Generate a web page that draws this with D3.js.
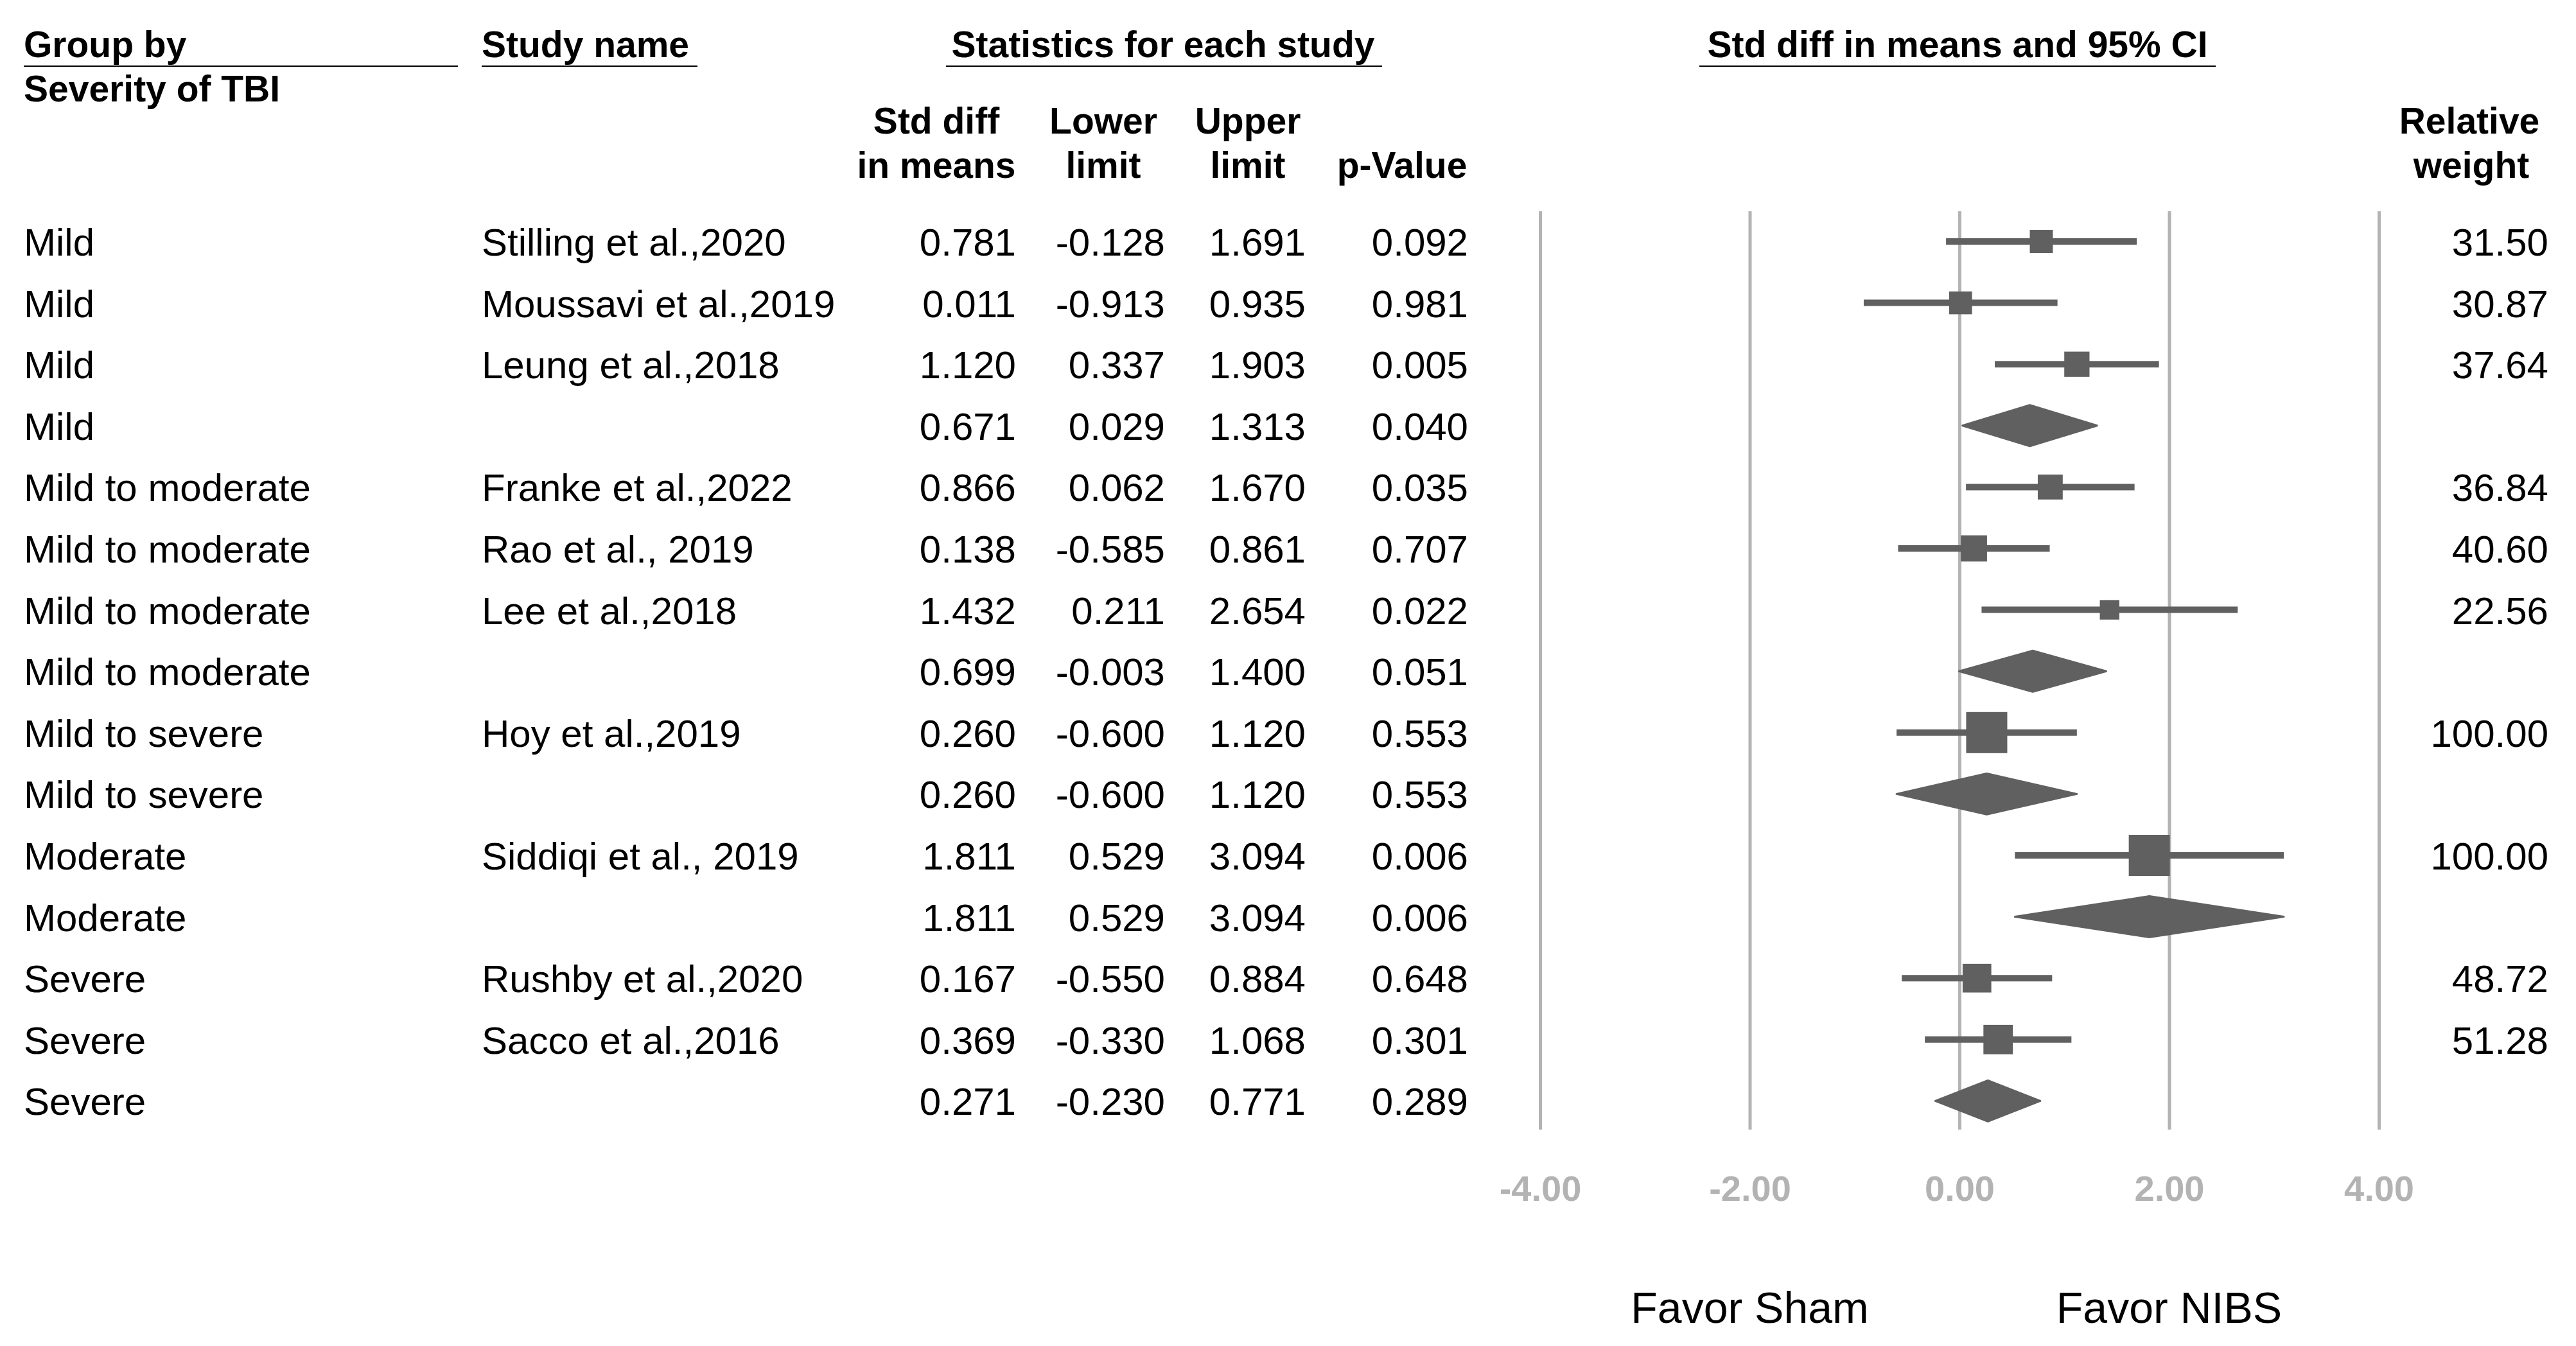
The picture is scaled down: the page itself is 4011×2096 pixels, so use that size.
<html>
<script src="https://cdnjs.cloudflare.com/ajax/libs/d3/7.8.5/d3.min.js"></script>
<body style="margin:0; background:white;">
    <div id="graph"></div>
</body>
<script>
    // rows of the forest plot, top to bottom
    var groups = ["Mild", "Mild", "Mild", "Mild",
        "Mild to moderate", "Mild to moderate", "Mild to moderate", "Mild to moderate",
        "Mild to severe", "Mild to severe", "Moderate", "Moderate",
        "Severe", "Severe", "Severe"]
    var studies = ["Stilling et al.,2020", "Moussavi et al.,2019", "Leung et al.,2018", "",
        "Franke et al.,2022", "Rao et al., 2019", "Lee et al.,2018", "",
        "Hoy et al.,2019", "", "Siddiqi et al., 2019", "",
        "Rushby et al.,2020", "Sacco et al.,2016", ""]
    var effect = [0.781, 0.011, 1.120, 0.671, 0.866, 0.138, 1.432, 0.699, 0.260, 0.260, 1.811, 1.811, 0.167, 0.369, 0.271]
    var lower = [-0.128, -0.913, 0.337, 0.029, 0.062, -0.585, 0.211, -0.003, -0.600, -0.600, 0.529, 0.529, -0.550, -0.330, -0.230]
    var upper = [1.691, 0.935, 1.903, 1.313, 1.670, 0.861, 2.654, 1.400, 1.120, 1.120, 3.094, 3.094, 0.884, 1.068, 0.771]
    var pvalue = [0.092, 0.981, 0.005, 0.040, 0.035, 0.707, 0.022, 0.051, 0.553, 0.553, 0.006, 0.006, 0.648, 0.301, 0.289]
    var weight = [31.50, 30.87, 37.64, null, 36.84, 40.60, 22.56, null, 100.00, null, 100.00, null, 48.72, 51.28, null]
    var ticks = [-4, -2, 0, 2, 4]

    var WIDTH = 4011, HEIGHT = 2096
    var FONT = "'Liberation Sans', Arial, sans-serif"
    var MARK = "#606060", GRID = "#b3b3b3"

    var svg = d3.select("#graph").append("svg")
        .attr("width", WIDTH).attr("height", HEIGHT)
        .style("font-family", FONT)

    var rows = groups.map((g, i) => ({
        group: g, study: studies[i], es: effect[i], lo: lower[i], hi: upper[i],
        p: pvalue[i], w: weight[i], summary: weight[i] == null
    }))

    var X = d3.scaleLinear().domain([-4, 4]).range([2398, 3704])
    var Y = d3.scaleLinear().domain([0, rows.length - 1]).range([376, 376 + 14 * 95.6])
    var SIZE = d3.scaleSqrt().domain([0, 100]).range([0, 64])

    // header
    function header(txt, x, y, anchor) {
        svg.append("text").attr("x", x).attr("y", y).attr("text-anchor", anchor || "start")
            .style("font-weight", "bold").style("font-size", "57px").text(txt)
    }
    function rule(x1, x2) {
        svg.append("line").attr("x1", x1).attr("x2", x2).attr("y1", 103).attr("y2", 103)
            .style("stroke", "#000").style("stroke-width", 2)
    }
    header("Group by", 37, 89); rule(37, 713)
    header("Severity of TBI", 37, 158)
    header("Study name", 750, 89); rule(750, 1086)
    header("Statistics for each study", 1811, 89, "middle"); rule(1473, 2152)
    header("Std diff in means and 95% CI", 3048, 89, "middle"); rule(2646, 3450)

    var colX = [1458, 1718, 1943, 2183]
    header("Std diff", colX[0], 208, "middle"); header("in means", colX[0], 277, "middle")
    header("Lower", colX[1], 208, "middle"); header("limit", colX[1], 277, "middle")
    header("Upper", colX[2], 208, "middle"); header("limit", colX[2], 277, "middle")
    header("p-Value", colX[3], 277, "middle")
    header("Relative", 3845, 208, "middle"); header("weight", 3848, 277, "middle")

    // gridlines + tick labels
    var axis = d3.axisBottom(X).tickValues(ticks)
        .tickSizeInner(-(1759 - 329)).tickSizeOuter(0).tickPadding(71)
        .tickFormat(d => d.toFixed(2))
    var ax = svg.append("g").attr("transform", "translate(0,1759)").call(axis)
    ax.select(".domain").remove()
    ax.selectAll(".tick line").style("stroke", GRID).style("stroke-width", 5)
    ax.selectAll(".tick text").style("fill", GRID).style("font-size", "56px")
        .style("font-weight", "bold").style("font-family", FONT)

    // table text
    var numCols = [["es", 1582], ["lo", 1814], ["hi", 2033], ["p", 2286]]
    var rowG = svg.selectAll("g.row").data(rows).enter().append("g")
        .attr("class", "row")
        .attr("transform", (d, i) => "translate(0," + Y(i) + ")")

    rowG.append("text").attr("x", 37).attr("y", 22).style("font-size", "60px").text(d => d.group)
    rowG.append("text").attr("x", 750).attr("y", 22).style("font-size", "60px").text(d => d.study)
    numCols.forEach(c => {
        rowG.append("text").attr("x", c[1]).attr("y", 22).attr("text-anchor", "end")
            .style("font-size", "60px").text(d => d[c[0]].toFixed(3))
    })
    rowG.filter(d => !d.summary).append("text").attr("x", 3968).attr("y", 22)
        .attr("text-anchor", "end").style("font-size", "60px").text(d => d.w.toFixed(2))

    // study CI + square
    var studyG = rowG.filter(d => !d.summary)
    studyG.append("line")
        .attr("x1", d => X(d.lo)).attr("x2", d => X(d.hi)).attr("y1", 0).attr("y2", 0)
        .style("stroke", MARK).style("stroke-width", 10)
    studyG.append("rect")
        .attr("x", d => X(d.es) - SIZE(d.w) / 2).attr("y", d => -SIZE(d.w) / 2)
        .attr("width", d => SIZE(d.w)).attr("height", d => SIZE(d.w))
        .style("fill", MARK)

    // subgroup summary diamond
    rowG.filter(d => d.summary).append("path")
        .attr("d", d => "M" + X(d.lo) + ",0L" + X(d.es) + ",-32L" + X(d.hi) + ",0L" + X(d.es) + ",32Z")
        .style("fill", MARK).style("stroke", MARK).style("stroke-width", 3).style("stroke-linejoin", "round")

    // favour labels
    svg.append("text").attr("x", X(-2)).attr("y", 2060).attr("text-anchor", "middle")
        .style("font-size", "68px").text("Favor Sham")
    svg.append("text").attr("x", X(2)).attr("y", 2060).attr("text-anchor", "middle")
        .style("font-size", "68px").text("Favor NIBS")
</script>
</html>
